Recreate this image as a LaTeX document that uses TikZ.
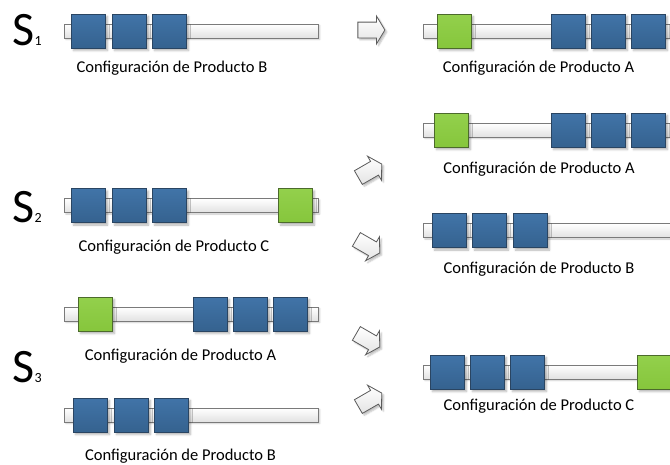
\documentclass[tikz,border=0pt]{standalone}
\usepackage{fontspec}
\setmainfont{Carlito}
\usetikzlibrary{shapes.arrows,shadows.blur}
\definecolor{bluetop}{HTML}{4174A8}
\definecolor{bluebot}{HTML}{35628F}
\definecolor{blueline}{HTML}{2A4562}
\definecolor{greentop}{HTML}{93D04C}
\definecolor{greenbot}{HTML}{86C63C}
\definecolor{greenline}{HTML}{4C6A2C}
\definecolor{barline}{HTML}{7A7A7A}
\definecolor{barbot}{HTML}{E2E2E2}
\definecolor{arrline}{HTML}{5A5A5A}
\definecolor{arrbot}{HTML}{E4E4E4}
\tikzset{
  bar/.style={draw=barline, line width=0.8pt, top color=white, bottom color=barbot,
    minimum height=14pt, inner sep=0pt, anchor=west,
    blur shadow={shadow xshift=1.5pt, shadow yshift=-1.5pt, shadow blur radius=1.5pt, shadow opacity=20}},
  sq/.style={minimum size=34pt, inner sep=0pt, line width=0.9pt, anchor=west,
    blur shadow={shadow xshift=2pt, shadow yshift=-2.5pt, shadow blur radius=2pt, shadow opacity=30}},
  bsq/.style={sq, draw=blueline, top color=bluetop, bottom color=bluebot},
  gsq/.style={sq, draw=greenline, top color=greentop, bottom color=greenbot},
  lbl/.style={font=\fontsize{16.5}{16.5}\selectfont, inner sep=0pt, anchor=base},
  bigs/.style={font=\fontsize{48}{48}\selectfont, inner sep=0pt, anchor=base west},
  subs/.style={font=\fontsize{14}{14}\selectfont, inner sep=0pt, anchor=base west},
  blockarr/.style={single arrow, draw=arrline, line width=0.8pt, top color=white, bottom color=arrbot,
    minimum height=27pt, inner xsep=0pt, inner ysep=7.5pt, outer sep=0pt,
    single arrow head extend=6pt, single arrow tip angle=118,
    blur shadow={shadow xshift=2pt, shadow yshift=-2pt, shadow blur radius=1.5pt, shadow opacity=25}}
}
\begin{document}
\begin{tikzpicture}[x=1pt,y=-1pt]
\useasboundingbox (0,0) rectangle (670,464);
\clip (0,0) rectangle (670,464);
% ---------- left column ----------
% S1
\node[bigs] (s1) at (12,45) {S};
\node[subs] (s1n) at (s1.base east) {1};
\node[bar, minimum width=254pt] (b1) at (64,31) {};
\node[bsq] (b1q1) at (71,31) {};
\node[bsq] (b1q2) at (112,31) {};
\node[bsq] (b1q3) at (152,31) {};
\node[lbl] (l1) at (172,72) {Configuración de Producto B};
% S2
\node[bigs] (s2) at (12,222) {S};
\node[subs] (s2n) at (s2.base east) {2};
\node[bar, minimum width=254pt] (b2) at (64,205.5) {};
\node[bsq] (b2q1) at (71,205.5) {};
\node[bsq] (b2q2) at (112,205.5) {};
\node[bsq] (b2q3) at (152,205.5) {};
\node[gsq] (b2q4) at (278,205.5) {};
\node[lbl] (l2) at (174,251) {Configuración de Producto C};
% S3
\node[bigs] (s3) at (12,382) {S};
\node[subs] (s3n) at (s3.base east) {3};
\node[bar, minimum width=254pt] (b3) at (64,314) {};
\node[gsq] (b3q1) at (78,314) {};
\node[bsq] (b3q2) at (193,314) {};
\node[bsq] (b3q3) at (233,314) {};
\node[bsq] (b3q4) at (273,314) {};
\node[lbl] (l3) at (180.5,360) {Configuración de Producto A};
\node[bar, minimum width=254pt] (b4) at (64,415) {};
\node[bsq] (b4q1) at (73,415) {};
\node[bsq] (b4q2) at (114,415) {};
\node[bsq] (b4q3) at (154,415) {};
\node[lbl] (l4) at (180.5,460) {Configuración de Producto B};
% ---------- arrows ----------
\node[blockarr] (a1) at (369,30) {};
\node[blockarr, rotate=30] (a2) at (368,172) {};
\node[blockarr, rotate=-30] (a3) at (366,245) {};
\node[blockarr, rotate=-30] (a4) at (366,339) {};
\node[blockarr, rotate=30] (a5) at (368,401) {};
% ---------- right column ----------
\node[bar, minimum width=260pt] (r1) at (423,31) {};
\node[gsq] (r1q1) at (437,31) {};
\node[bsq] (r1q2) at (551,31) {};
\node[bsq] (r1q3) at (591,31) {};
\node[bsq] (r1q4) at (631,31) {};
\node[lbl] (rl1) at (538.5,72) {Configuración de Producto A};
\node[bar, minimum width=260pt] (r2) at (423,130) {};
\node[gsq] (r2q1) at (434,130) {};
\node[bsq] (r2q2) at (551,130) {};
\node[bsq] (r2q3) at (591,130) {};
\node[bsq] (r2q4) at (631,130) {};
\node[lbl] (rl2) at (539,173) {Configuración de Producto A};
\node[bar, minimum width=260pt] (r3) at (423,230.5) {};
\node[bsq] (r3q1) at (432,230.5) {};
\node[bsq] (r3q2) at (472,230.5) {};
\node[bsq] (r3q3) at (513,230.5) {};
\node[lbl] (rl3) at (539,273) {Configuración de Producto B};
\node[bar, minimum width=260pt] (r4) at (423,372) {};
\node[bsq] (r4q1) at (430,372) {};
\node[bsq] (r4q2) at (470,372) {};
\node[bsq] (r4q3) at (510,372) {};
\node[gsq] (r4q4) at (637,372) {};
\node[lbl] (rl4) at (539,410) {Configuración de Producto C};
\end{tikzpicture}
\end{document}
